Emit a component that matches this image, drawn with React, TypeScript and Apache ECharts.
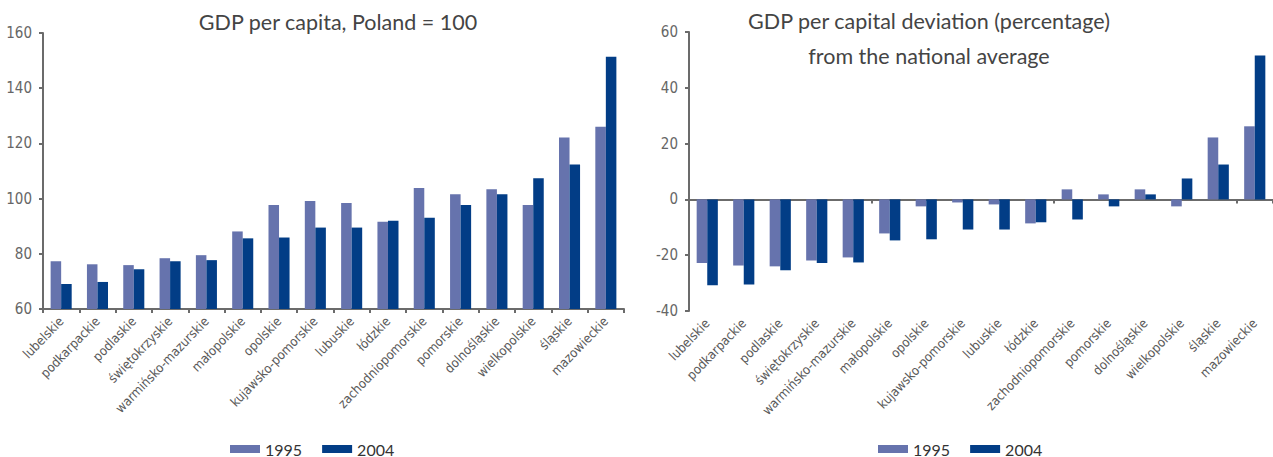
import React, { useEffect, useRef } from "react";
import * as echarts from "echarts";

const regions = [
  "lubelskie", "podkarpackie", "podlaskie", "świętokrzyskie", "warmińsko-mazurskie",
  "małopolskie", "opolskie", "kujawsko-pomorskie", "lubuskie", "łódzkie",
  "zachodniopomorskie", "pomorskie", "dolnośląskie", "wielkopolskie", "śląskie", "mazowieckie",
];
const seriesNames = ["1995", "2004"];
const index1995 = [77.3, 76.2, 75.9, 78.4, 79.5, 88.1, 97.7, 99.1, 98.4, 91.6, 103.8, 101.6, 103.4, 97.7, 122.1, 126.0];
const index2004 = [69.1, 69.8, 74.4, 77.3, 77.7, 85.6, 85.9, 89.5, 89.5, 92.0, 93.1, 97.7, 101.6, 107.4, 112.4, 151.4];
const dev1995 = [-22.8, -23.7, -24.0, -21.9, -20.8, -12.2, -2.5, -1.1, -1.8, -8.6, 3.6, 1.8, 3.6, -2.5, 22.2, 26.2];
const dev2004 = [-30.8, -30.5, -25.4, -22.8, -22.6, -14.7, -14.3, -10.8, -10.8, -8.2, -7.2, -2.5, 1.8, 7.5, 12.5, 51.6];
const leftTitle = "GDP per capita, Poland = 100";
const rightTitle = "GDP per capital deviation (percentage)\nfrom the national average";

const c1995 = "#6673ad";
const c2004 = "#023d86";
const axisColor = "#6b6b6b";
const textColor = "#5a5a5a";
const narrow = "'Liberation Sans Narrow', 'DejaVu Sans Condensed', sans-serif";

export default function App() {
  const ref = useRef<HTMLDivElement>(null);
  useEffect(() => {
    if (!ref.current) return;
    const chart = echarts.init(ref.current, undefined, { renderer: "svg" });
    const yAxisCommon = {
      type: "value" as const,
      interval: 20,
      splitLine: { show: false },
      axisLine: { show: true, lineStyle: { color: axisColor, width: 2 } },
      axisTick: { show: true, length: 4, lineStyle: { color: axisColor, width: 2 } },
      axisLabel: { color: "#666", fontSize: 15, fontFamily: narrow, margin: 11 },
    };
    const catLabel = {
      rotate: 46,
      color: textColor,
      fontSize: 13,
      fontFamily: narrow,
      margin: 10,
      interval: 0,
    };
    const legendCommon = {
      data: seriesNames,
      top: 441,
      padding: 0,
      itemWidth: 30,
      itemHeight: 8,
      itemGap: 20,
      icon: "rect",
      textStyle: { fontFamily: "Lato, sans-serif", fontSize: 16, color: "#333" },
    };
    chart.setOption({
      animation: false,
      title: [
        {
          text: leftTitle,
          left: 333,
          textAlign: "center",
          top: 6,
          textStyle: { fontFamily: "Lato, sans-serif", fontWeight: "normal", fontSize: 21.5, color: "#444" },
        },
        {
          text: rightTitle,
          left: 924,
          textAlign: "center",
          top: -2,
          textStyle: { fontFamily: "Lato, sans-serif", fontWeight: "normal", fontSize: 21.5, color: "#444", lineHeight: 35 },
        },
      ],
      legend: [
        { ...legendCommon, left: 230 },
        { ...legendCommon, left: 878 },
      ],
      grid: [
        { left: 43, top: 33, width: 581, height: 276 },
        { left: 689, top: 32, width: 584, height: 279 },
      ],
      xAxis: [
        {
          type: "category",
          gridIndex: 0,
          data: regions,
          axisLine: { lineStyle: { color: axisColor, width: 2 } },
          axisTick: { show: true, length: 4, lineStyle: { color: axisColor, width: 2 } },
          axisLabel: catLabel,
        },
        {
          type: "category",
          gridIndex: 1,
          data: regions,
          axisLine: { onZero: true, lineStyle: { color: axisColor, width: 2 } },
          axisTick: { show: true, length: 4, lineStyle: { color: axisColor, width: 2 } },
          axisLabel: { show: false },
        },
        {
          type: "category",
          gridIndex: 1,
          data: regions,
          position: "bottom",
          axisLine: { show: false, onZero: false },
          axisTick: { show: false },
          axisLabel: catLabel,
        },
      ],
      yAxis: [
        { ...yAxisCommon, gridIndex: 0, min: 60, max: 160 },
        { ...yAxisCommon, gridIndex: 1, min: -40, max: 60 },
      ],
      series: [
        { name: "1995", type: "bar", xAxisIndex: 0, yAxisIndex: 0, data: index1995, itemStyle: { color: c1995 }, barGap: "0%", barCategoryGap: "42%" },
        { name: "2004", type: "bar", xAxisIndex: 0, yAxisIndex: 0, data: index2004, itemStyle: { color: c2004 }, barGap: "0%", barCategoryGap: "42%" },
        { name: "1995", type: "bar", xAxisIndex: 1, yAxisIndex: 1, data: dev1995, itemStyle: { color: c1995 }, barGap: "0%", barCategoryGap: "42%" },
        { name: "2004", type: "bar", xAxisIndex: 1, yAxisIndex: 1, data: dev2004, itemStyle: { color: c2004 }, barGap: "0%", barCategoryGap: "42%" },
      ],
    });
    return () => chart.dispose();
  }, []);
  return <div ref={ref} style={{ width: 1273, height: 457, position: "absolute", left: 0, top: 0 }} />;
}
